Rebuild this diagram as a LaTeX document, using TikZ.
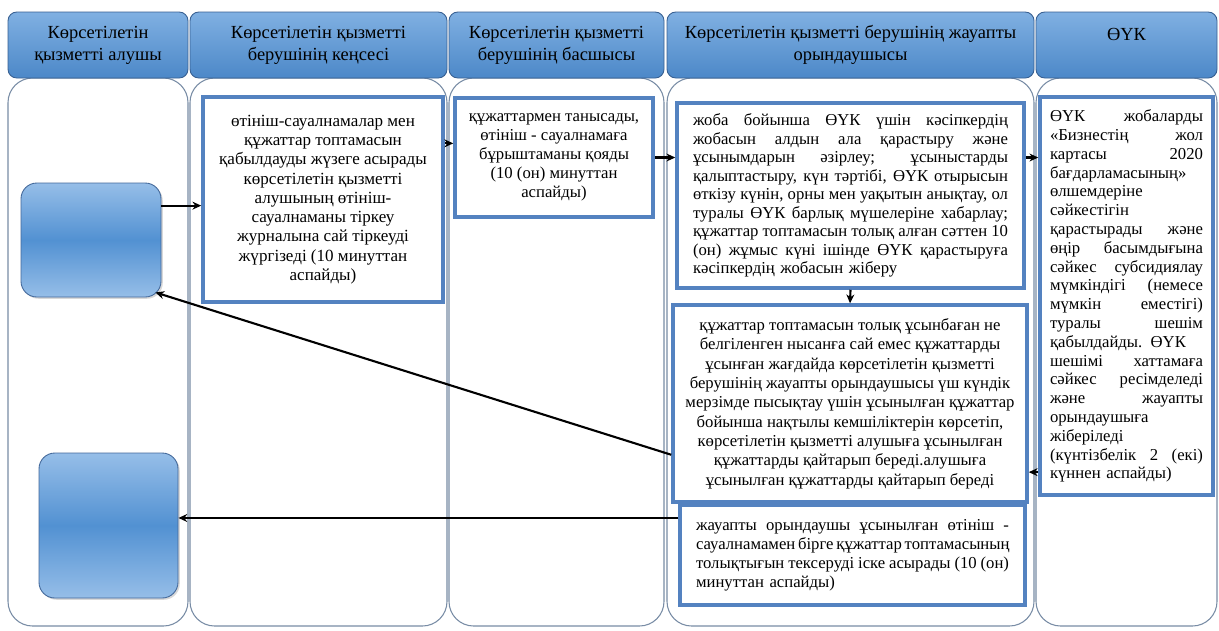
\documentclass[tikz,border=0pt]{standalone}
\usepackage{fontspec}
\setmainfont{Liberation Serif}
\usetikzlibrary{arrows.meta,shadows}
\setlength\parindent{0pt}
\definecolor{hdtop}{RGB}{128,176,226}
\definecolor{hdbot}{RGB}{76,136,200}
\definecolor{hdline}{RGB}{55,95,145}
\definecolor{lanec}{RGB}{120,140,165}
\definecolor{procc}{RGB}{84,130,192}
\definecolor{actlt}{RGB}{150,190,232}
\definecolor{actmid}{RGB}{82,145,210}
\def\pxl{0.02cm}
\newlength\jlw
\newcommand\jl[1]{\makebox[\jlw][s]{\spaceskip=\fontdimen2\font plus 1fil minus \fontdimen4\font\relax #1}}
\tikzset{
  lane/.style={draw=lanec, line width=0.6pt, rounded corners=14pt},
  head/.style={draw=hdline, line width=0.5pt, rounded corners=5pt, top color=hdtop, bottom color=hdbot,
    align=center, inner sep=0pt, font=\fontsize{10.5}{12.5}\selectfont},
  proc/.style={draw=procc, line width=2pt, fill=white, inner sep=0pt, font=\fontsize{9.5}{10.8}\selectfont},
  jw/.style={text width=#1, execute at begin node={\setlength\jlw{#1}}},
  actor/.style={draw=procc!80!black, line width=0.5pt, rounded corners=9pt, top color=actlt, bottom color=actlt,
    middle color=actmid, drop shadow={opacity=0.3,shadow xshift=1pt,shadow yshift=-1pt}},
  arr/.style={-{Stealth[length=5pt,width=4.5pt]}, line width=1.2pt}
}
\begin{document}
\begin{tikzpicture}[x=0.02cm, y=-0.02cm]
  \useasboundingbox[fill=white] (0,0) rectangle (1219,630);

  % swimlanes
  \draw[lane] (8,78) rectangle (188,626);
  \draw[lane] (190,78) rectangle (447,626);
  \draw[lane] (449,78) rectangle (664,626);
  \draw[lane] (667,78) rectangle (1034,626);
  \draw[lane] (1036,78) rectangle (1217,626);

  % lane headers
  \node[head, minimum width=180*\pxl, minimum height=66*\pxl] (h1) at (98,45) {Көрсетілетін\\қызметті алушы};
  \node[head, minimum width=257*\pxl, minimum height=66*\pxl] (h2) at (318.5,45) {Көрсетілетін қызметті\\берушінің кеңсесі};
  \node[head, minimum width=215*\pxl, minimum height=66*\pxl] (h3) at (556.5,45) {Көрсетілетін қызметті\\берушінің басшысы};
  \node[head, minimum width=367*\pxl, minimum height=66*\pxl] (h4) at (850.5,45) {Көрсетілетін қызметті берушінің жауапты\\орындаушысы};
  \node[head, minimum width=181*\pxl, minimum height=66*\pxl] (h5) at (1126.5,45) {ӨҮК\\~};

  % service receiver
  \node[actor, minimum width=140*\pxl, minimum height=114*\pxl] (A) at (91,240) {};
  \node[actor, minimum width=139*\pxl, minimum height=145*\pxl] (B) at (108.5,525.5) {};

  % steps
  \node[proc, align=center, minimum width=240*\pxl, minimum height=205*\pxl,
    font=\fontsize{9.7}{11}\selectfont] (b2) at (323,199.5)
    {өтініш-сауалнамалар мен\\құжаттар топтамасын\\қабылдауды жүзеге асырады\\көрсетілетін қызметті\\алушының өтініш-\\сауалнаманы тіркеу\\журналына сай тіркеуді\\жүргізеді (10 минуттан\\аспайды)};
  \node[proc, align=center, minimum width=198*\pxl, minimum height=119*\pxl] (b3) at (554,157.5)
    {құжаттармен танысады,\\өтініш - сауалнамаға\\бұрыштаманы қояды\\(10 (он) минуттан\\аспайды)};
  \node[proc, align=left, jw=6.3cm, minimum width=347*\pxl, minimum height=185*\pxl,
    font=\fontsize{9.5}{10.5}\selectfont] (b4) at (850.5,195.5)
    {\jl{жоба бойынша ӨҮК үшін кәсіпкердің}\\\jl{жобасын алдын ала қарастыру және}\\\jl{ұсынымдарын әзірлеу; ұсыныстарды}\\\jl{қалыптастыру, күн тәртібі, ӨҮК отырысын}\\\jl{өткізу күнін, орны мен уақытын анықтау, ол}\\\jl{туралы ӨҮК барлық мүшелеріне хабарлау;}\\\jl{құжаттар топтамасын толық алған сәттен 10}\\\jl{(он) жұмыс күні ішінде ӨҮК қарастыруға}\\кәсіпкердің жобасын жіберу};
  \node[proc, align=left, jw=3.06cm, minimum width=173*\pxl, minimum height=398*\pxl,
    font=\fontsize{9.5}{10.7}\selectfont] (b5) at (1126.5,296)
    {\jl{ӨҮК жобаларды}\\\jl{«Бизнестің жол}\\\jl{картасы 2020}\\бағдарламасының»\\өлшемдеріне\\сәйкестігін\\\jl{қарастырады және}\\\jl{өңір басымдығына}\\\jl{сәйкес субсидиялау}\\\jl{мүмкіндігі (немесе}\\\jl{мүмкін еместігі)}\\\jl{туралы шешім}\\\jl{қабылдайды. ӨҮК}\\\jl{шешімі хаттамаға}\\\jl{сәйкес ресімделеді}\\\jl{және жауапты}\\орындаушыға\\жіберіледі\\\jl{(күнтізбелік 2 (екі)}\\күннен аспайды)};
  \node[proc, align=center, minimum width=354*\pxl, minimum height=197*\pxl,
    font=\fontsize{9.5}{11}\selectfont] (b6) at (850,403.5)
    {құжаттар топтамасын толық ұсынбаған не\\белгіленген нысанға сай емес құжаттарды\\ұсынған жағдайда көрсетілетін қызметті\\берушінің жауапты орындаушысы үш күндік\\мерзімде пысықтау үшін ұсынылған құжаттар\\бойынша нақтылы кемшіліктерін көрсетіп,\\көрсетілетін қызметті алушыға ұсынылған\\құжаттарды қайтарып береді.алушыға\\ұсынылған құжаттарды қайтарып береді};
  \node[proc, align=left, jw=6.26cm, minimum width=345*\pxl, minimum height=100*\pxl] (b7) at (852.5,555)
    {\jl{жауапты орындаушы ұсынылған өтініш -}\\\jl{сауалнамамен бірге құжаттар топтамасының}\\\jl{толықтығын тексеруді іске асырады (10 (он)}\\минуттан аспайды)};

  % flow
  \draw[arr] (A.26) -- (A.26 -| b2.west);
  \draw[arr] (b3.172 -| b2.east) -- (b3.172);
  \draw[arr] (b3.east) -- (b3.east -| b4.west);
  \draw[arr] (b3.east -| b4.east) -- (b3.east -| b5.west);
  \draw[arr] (b4.south) -- (b6.north);
  \draw[arr] (b6.-21 -| b5.west) -- (b6.-21);
  \draw[arr] (b6.196) -- ([shift={(-6,-5)}]A.south east);
  \draw[arr] (b7.168) -- (b7.168 -| B.east);
\end{tikzpicture}
\end{document}
